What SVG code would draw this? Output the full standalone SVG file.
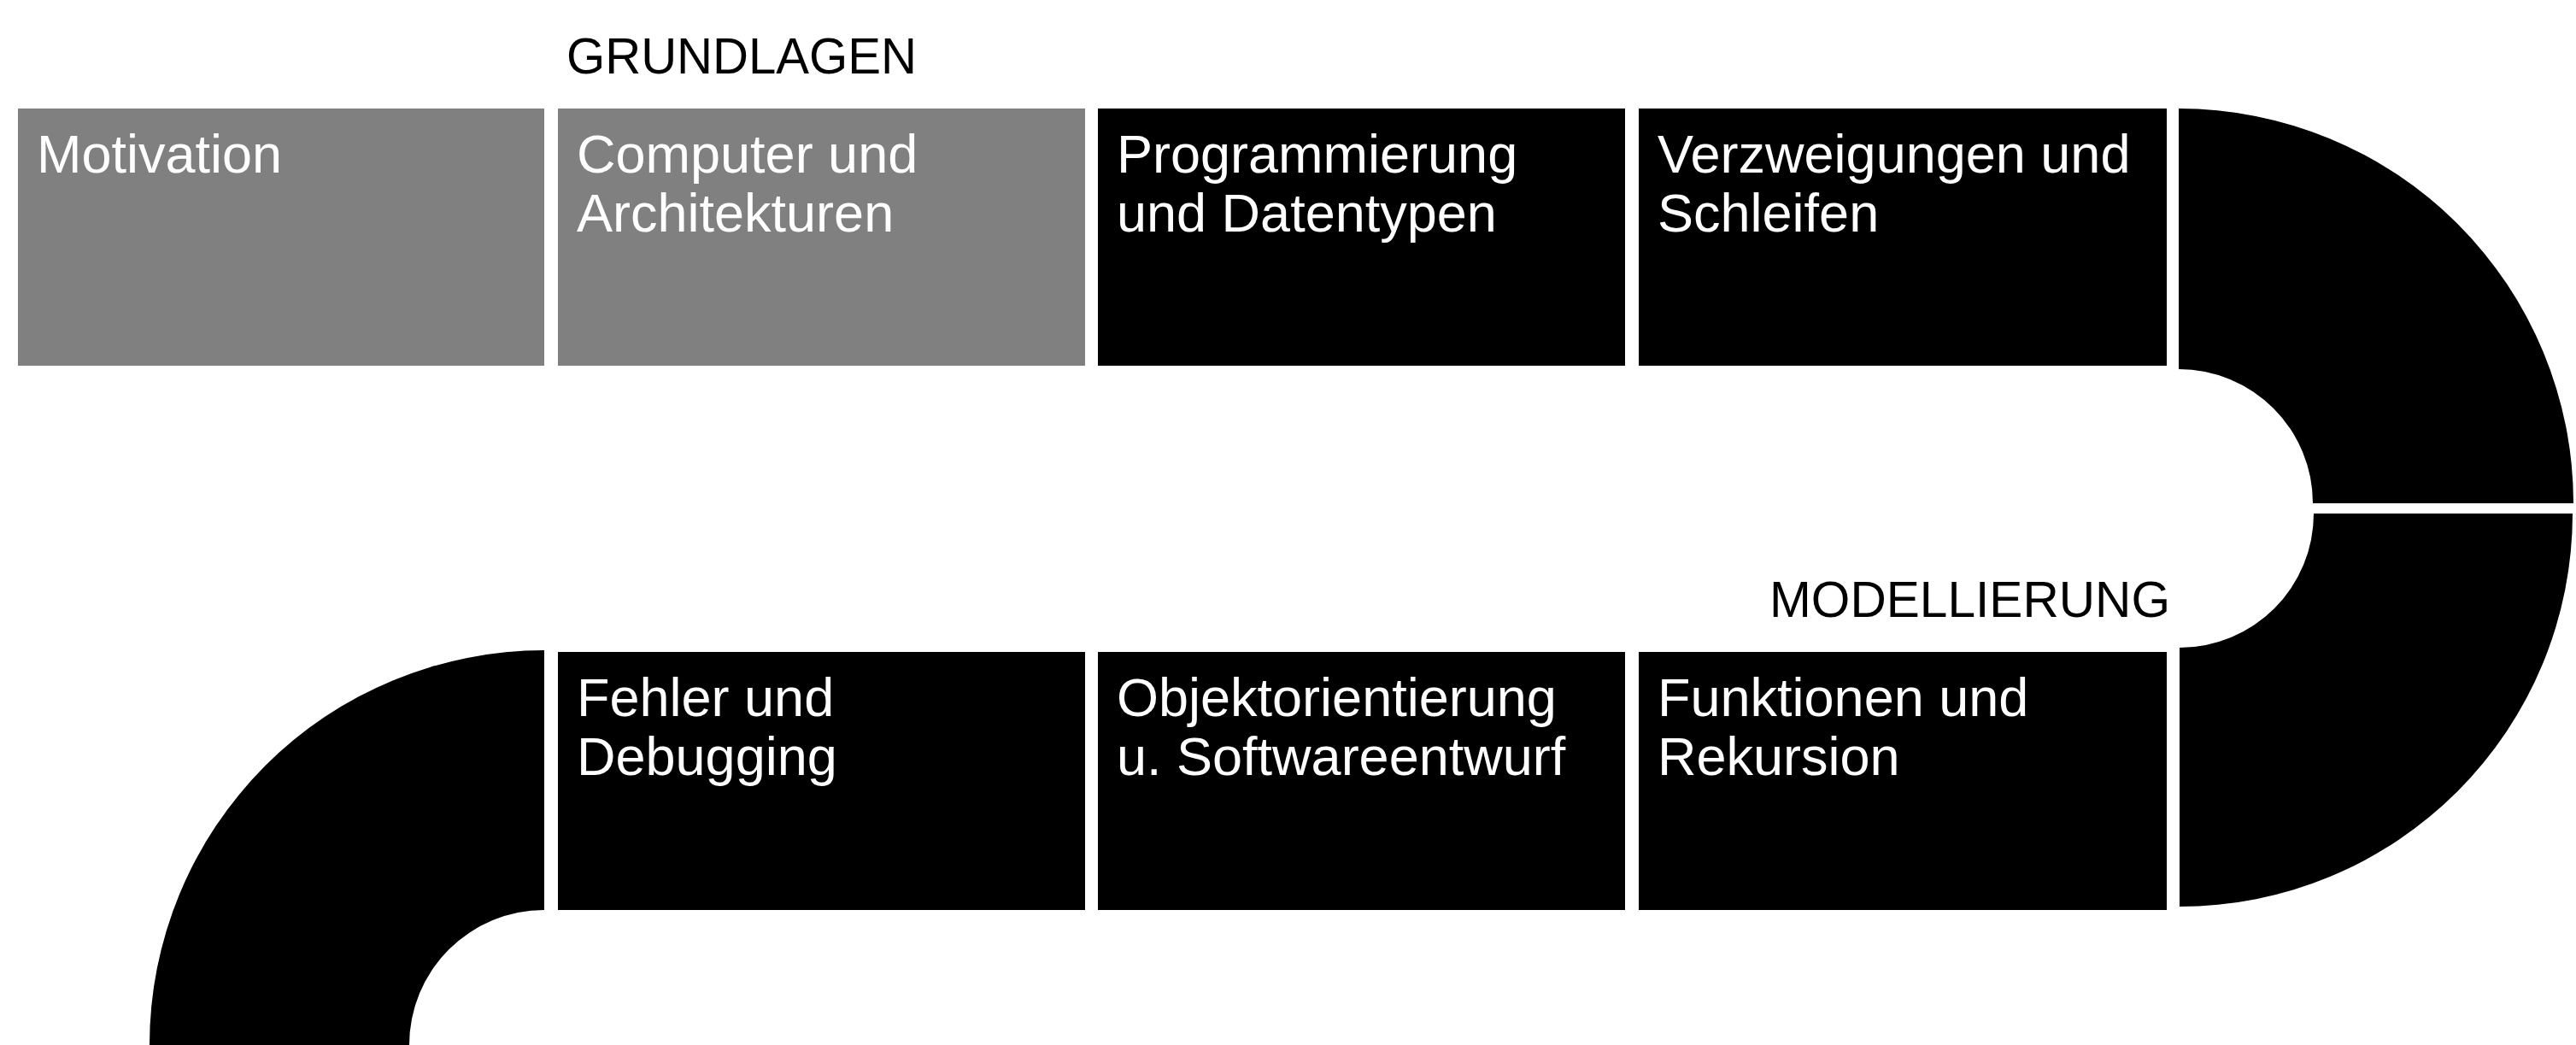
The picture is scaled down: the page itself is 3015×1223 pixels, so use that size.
<svg xmlns="http://www.w3.org/2000/svg" width="3015" height="1223" viewBox="0 0 3015 1223">
  <style>
    .gray { fill: #808080; }
    .black { fill: #000000; }
    .label { font-family: "Liberation Sans", Arial, sans-serif; font-size: 63px; fill: #ffffff; }
    .section { font-family: "Liberation Sans", Arial, sans-serif; font-size: 60px; fill: #000000; }
  </style>
  <rect width="3015" height="1223" fill="#ffffff"/>

  <g id="sections">
    <text id="grundlagen" class="section" x="663" y="86" textLength="410" lengthAdjust="spacingAndGlyphs">GRUNDLAGEN</text>
    <text id="modellierung" class="section" x="2071" y="722" textLength="469" lengthAdjust="spacingAndGlyphs">MODELLIERUNG</text>
  </g>

  <g id="connectors">
    <path id="bend-top-right" class="black" d="M 2550 127 A 462 462 0 0 1 3012 589 L 2707 589 A 157 157 0 0 0 2550 432 Z"/>
    <path id="bend-bottom-right" class="black" d="M 2551 1061 A 460 460 0 0 0 3011 601 L 2708 601 A 157 157 0 0 1 2551 758 Z"/>
    <path id="bend-bottom-left" class="black" d="M 175 1223 A 462 462 0 0 1 637 761 L 637 1065 A 158 158 0 0 0 479 1223 Z"/>
  </g>

  <g id="motivation">
    <rect class="gray" x="21" y="127" width="616" height="301"/>
    <text class="label" x="43" y="202">Motivation</text>
  </g>
  <g id="computer">
    <rect class="gray" x="653" y="127" width="617" height="301"/>
    <text class="label" x="675" y="202">Computer und</text>
    <text class="label" x="675" y="271">Architekturen</text>
  </g>
  <g id="programmierung">
    <rect class="black" x="1285" y="127" width="617" height="301"/>
    <text class="label" x="1307" y="202">Programmierung</text>
    <text class="label" x="1307" y="271">und Datentypen</text>
  </g>
  <g id="verzweigungen">
    <rect class="black" x="1918" y="127" width="618" height="301"/>
    <text class="label" x="1940" y="202">Verzweigungen und</text>
    <text class="label" x="1940" y="271">Schleifen</text>
  </g>

  <g id="fehler">
    <rect class="black" x="653" y="763" width="617" height="302"/>
    <text class="label" x="675" y="838">Fehler und</text>
    <text class="label" x="675" y="907">Debugging</text>
  </g>
  <g id="objektorientierung">
    <rect class="black" x="1285" y="763" width="617" height="302"/>
    <text class="label" x="1307" y="838">Objektorientierung</text>
    <text class="label" x="1307" y="907">u. Softwareentwurf</text>
  </g>
  <g id="funktionen">
    <rect class="black" x="1918" y="763" width="618" height="302"/>
    <text class="label" x="1940" y="838">Funktionen und</text>
    <text class="label" x="1940" y="907">Rekursion</text>
  </g>
</svg>
